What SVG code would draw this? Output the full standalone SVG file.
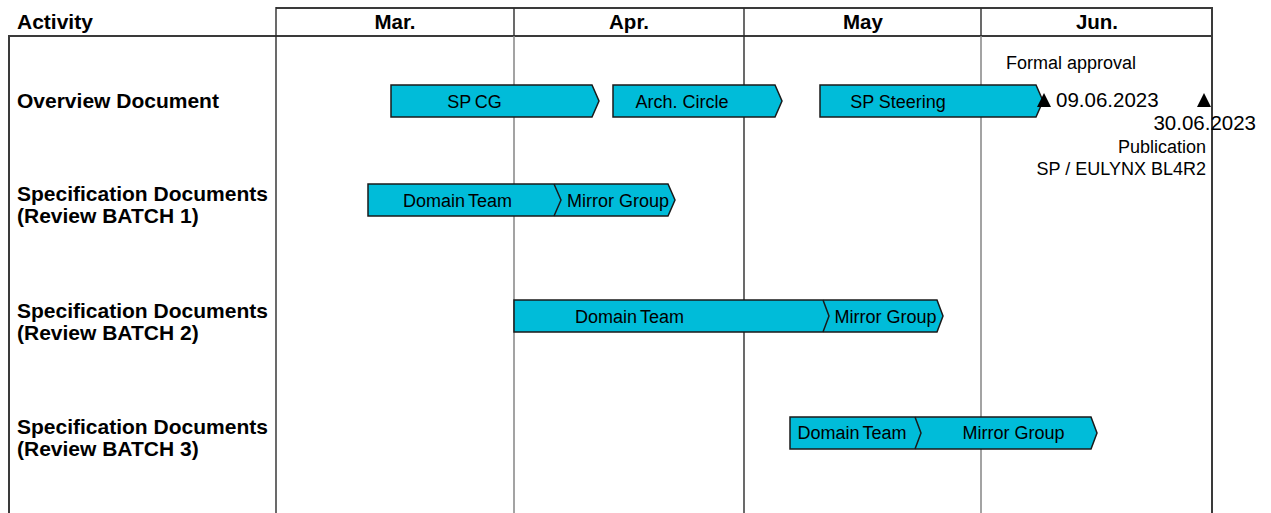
<svg xmlns="http://www.w3.org/2000/svg" width="1271" height="513" viewBox="0 0 1271 513">
  <style>
    text { font-family: "Liberation Sans", Arial, sans-serif; fill: #000; }
    .hdr { font-size: 21px; font-weight: bold; }
    .month { font-size: 20.5px; font-weight: bold; text-anchor: middle; }
    .row { font-size: 21px; font-weight: bold; }
    .bar-label { font-size: 18px; }
    .dt { word-spacing: -1.5px; }
    .note { font-size: 18px; }
    .date { font-size: 20.5px; }
    .bar { fill: #00bcd9; stroke: #1a1a1a; stroke-width: 1.5; stroke-linejoin: miter; }
    .split { fill: none; stroke: #1a1a1a; stroke-width: 1.5; }
    .rule-dark { stroke: #2b2b2b; stroke-width: 1.4; fill: none; }
    .rule-soft { stroke: #8c8c8c; stroke-width: 1.6; fill: none; }
    .frame { stroke: #3a3a3a; stroke-width: 2; fill: none; }
    .milestone { fill: #000; }
  </style>

  <rect width="1271" height="513" fill="#ffffff"/>

  <!-- table frame and month columns -->
  <g id="grid">
    <line class="frame" x1="276" y1="8" x2="1212" y2="8"/>
    <line class="frame" x1="9" y1="36" x2="1212" y2="36"/>
    <line class="frame" x1="9" y1="35" x2="9" y2="513"/>
    <line class="frame" x1="1212" y1="7" x2="1212" y2="513"/>
    <line class="rule-dark" x1="276" y1="7" x2="276" y2="513"/>
    <line class="rule-dark" x1="514" y1="8" x2="514" y2="36"/>
    <line class="rule-soft" x1="514" y1="36" x2="514" y2="513"/>
    <line class="rule-dark" x1="744" y1="8" x2="744" y2="513"/>
    <line class="rule-dark" x1="981" y1="8" x2="981" y2="36"/>
    <line class="rule-soft" x1="981" y1="36" x2="981" y2="513"/>
  </g>

  <!-- header -->
  <g id="header">
    <text class="hdr" x="17" y="29">Activity</text>
    <text class="month" x="395" y="29">Mar.</text>
    <text class="month" x="629" y="29">Apr.</text>
    <text class="month" x="863" y="29">May</text>
    <text class="month" x="1097" y="29">Jun.</text>
  </g>

  <!-- row labels -->
  <g id="row-overview">
    <text class="row" x="17" y="108">Overview Document</text>
  </g>
  <g id="row-batch1">
    <text class="row" x="17" y="201">Specification Documents</text>
    <text class="row" x="17" y="223">(Review BATCH 1)</text>
  </g>
  <g id="row-batch2">
    <text class="row" x="17" y="318">Specification Documents</text>
    <text class="row" x="17" y="340">(Review BATCH 2)</text>
  </g>
  <g id="row-batch3">
    <text class="row" x="17" y="434">Specification Documents</text>
    <text class="row" x="17" y="456">(Review BATCH 3)</text>
  </g>

  <!-- overview document phases -->
  <g id="phase-sp-cg">
    <path class="bar" d="M391,85 H592 L599,101 L592,117 H391 Z"/>
    <text class="bar-label" x="474.5" y="108" text-anchor="middle" word-spacing="-1">SP CG</text>
  </g>
  <g id="phase-arch-circle">
    <path class="bar" d="M613,85 H775 L782,101 L775,117 H613 Z"/>
    <text class="bar-label" x="682" y="108" text-anchor="middle">Arch. Circle</text>
  </g>
  <g id="phase-sp-steering">
    <path class="bar" d="M820,85 H1036 L1043,101 L1036,117 H820 Z"/>
    <text class="bar-label" x="898" y="108" text-anchor="middle">SP Steering</text>
  </g>

  <!-- milestones -->
  <g id="milestone-approval">
    <text class="note" x="1006" y="69">Formal approval</text>
    <path class="milestone" d="M1044,93 L1051,107 L1037,107 Z"/>
    <text class="date" x="1056" y="107">09.06.2023</text>
  </g>
  <g id="milestone-publication">
    <path class="milestone" d="M1204,93 L1211,107 L1197,107 Z"/>
    <text class="date" x="1256" y="130" text-anchor="end">30.06.2023</text>
    <text class="note" x="1206" y="153" text-anchor="end">Publication</text>
    <text class="note" x="1206" y="175" text-anchor="end">SP / EULYNX BL4R2</text>
  </g>

  <!-- review batch 1 -->
  <g id="batch1-bar">
    <path class="bar" d="M368,184 H668 L675,200 L668,216 H368 Z"/>
    <path class="split" d="M554,184 L561,200 L554,216"/>
    <text class="bar-label dt" x="457.5" y="207" text-anchor="middle">Domain Team</text>
    <text class="bar-label" x="618" y="207" text-anchor="middle">Mirror Group</text>
  </g>

  <!-- review batch 2 -->
  <g id="batch2-bar">
    <path class="bar" d="M514,300 H937 L943,316 L937,332 H514 Z"/>
    <path class="split" d="M823,300 L829,316 L823,332"/>
    <text class="bar-label dt" x="629.5" y="323" text-anchor="middle">Domain Team</text>
    <text class="bar-label" x="885.5" y="323" text-anchor="middle">Mirror Group</text>
  </g>

  <!-- review batch 3 -->
  <g id="batch3-bar">
    <path class="bar" d="M790,417 H1091 L1097,433 L1091,449 H790 Z"/>
    <path class="split" d="M915,417 L921,433 L915,449"/>
    <text class="bar-label dt" x="852" y="439" text-anchor="middle">Domain Team</text>
    <text class="bar-label" x="1013.5" y="439" text-anchor="middle">Mirror Group</text>
  </g>

  <!-- no connectors between nodes in this chart -->
  <g id="connectors"/>
</svg>
